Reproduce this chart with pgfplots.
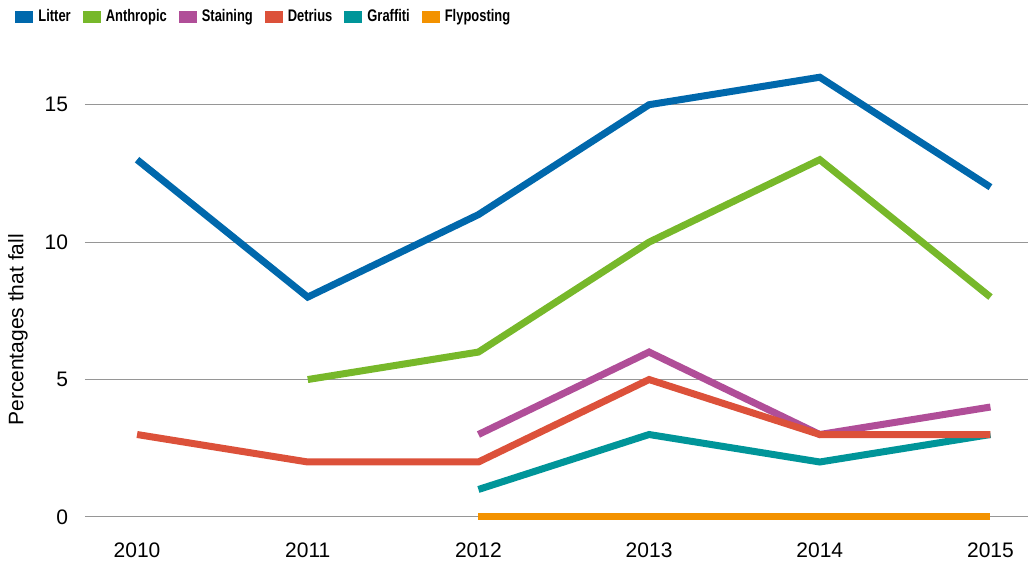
\documentclass[border=0pt]{standalone}
\usepackage{fontspec}
\setmainfont{Liberation Sans}
\newfontfamily\legfont[FakeStretch=0.77]{Liberation Sans}
\usepackage{pgfplots}
\pgfplotsset{compat=1.18}
\definecolor{clitter}{RGB}{0,104,172}
\definecolor{canthro}{RGB}{119,184,42}
\definecolor{cstain}{RGB}{176,78,152}
\definecolor{cdetr}{RGB}{220,81,58}
\definecolor{cgraff}{RGB}{0,149,153}
\definecolor{cfly}{RGB}{243,146,0}
\definecolor{cgrid}{RGB}{150,150,150}
\begin{document}
\begin{tikzpicture}
\useasboundingbox (0,0) rectangle (514.5pt,281.5pt);
\begin{axis}[
  at={(42.5pt,16.15pt)}, anchor=south west,
  scale only axis, width=471.5pt, height=247.35pt,
  xmin=2009.695, xmax=2015.22, ymin=-0.5, ymax=17.5,
  axis line style={draw=none}, tick style={draw=none},
  ymajorgrids, grid style={cgrid, line width=0.5pt},
  xtick={2010,2011,2012,2013,2014,2015},
  xticklabels={2010,2011,2012,2013,2014,2015},
  ytick={0,5,10,15},
  /pgf/number format/assume math mode=true,
  ticklabel style={font=\fontsize{10.5}{12}\selectfont},
  yticklabel style={xshift=-5pt},
  xticklabel style={yshift=-2.5pt},
  ylabel={Percentages that fall},
  ylabel style={font=\fontsize{10.5}{12}\selectfont, at={(axis description cs:-0.071,0.406)}, anchor=center, rotate=0},
  legend style={at={(-0.0742,1.0384)}, anchor=west, draw=none, fill=none, inner sep=0pt,
    nodes={inner sep=0pt},
    font=\legfont\bfseries\fontsize{8.4}{9}\selectfont,
    /tikz/every odd column/.append style={column sep=2.5pt},
    /tikz/every even column/.append style={column sep=6pt}},
  legend columns=-1,
  legend image code/.code={\fill[#1, draw=none] (0pt,-3pt) rectangle (9pt,3pt);},
  every axis plot/.append style={line width=3.5pt, line cap=butt, line join=miter, mark=none},
]
\addplot[clitter] coordinates {(2010,13) (2011,8) (2012,11) (2013,15) (2014,16) (2015,12)};
\addlegendentry{Litter}
\addplot[canthro] coordinates {(2011,5) (2012,6) (2013,10) (2014,13) (2015,8)};
\addlegendentry{Anthropic}
\addplot[cstain] coordinates {(2012,3) (2013,6) (2014,3) (2015,4)};
\addlegendentry{Staining}
\addplot[cgraff, forget plot] coordinates {(2012,1) (2013,3) (2014,2) (2015,3)};
\addplot[cdetr] coordinates {(2010,3) (2011,2) (2012,2) (2013,5) (2014,3) (2015,3)};
\addlegendentry{Detrius}
\addlegendimage{cgraff}
\addlegendentry{Graffiti}
\addplot[cfly] coordinates {(2012,0) (2013,0) (2014,0) (2015,0)};
\addlegendentry{Flyposting}
\end{axis}
\end{tikzpicture}
\end{document}
